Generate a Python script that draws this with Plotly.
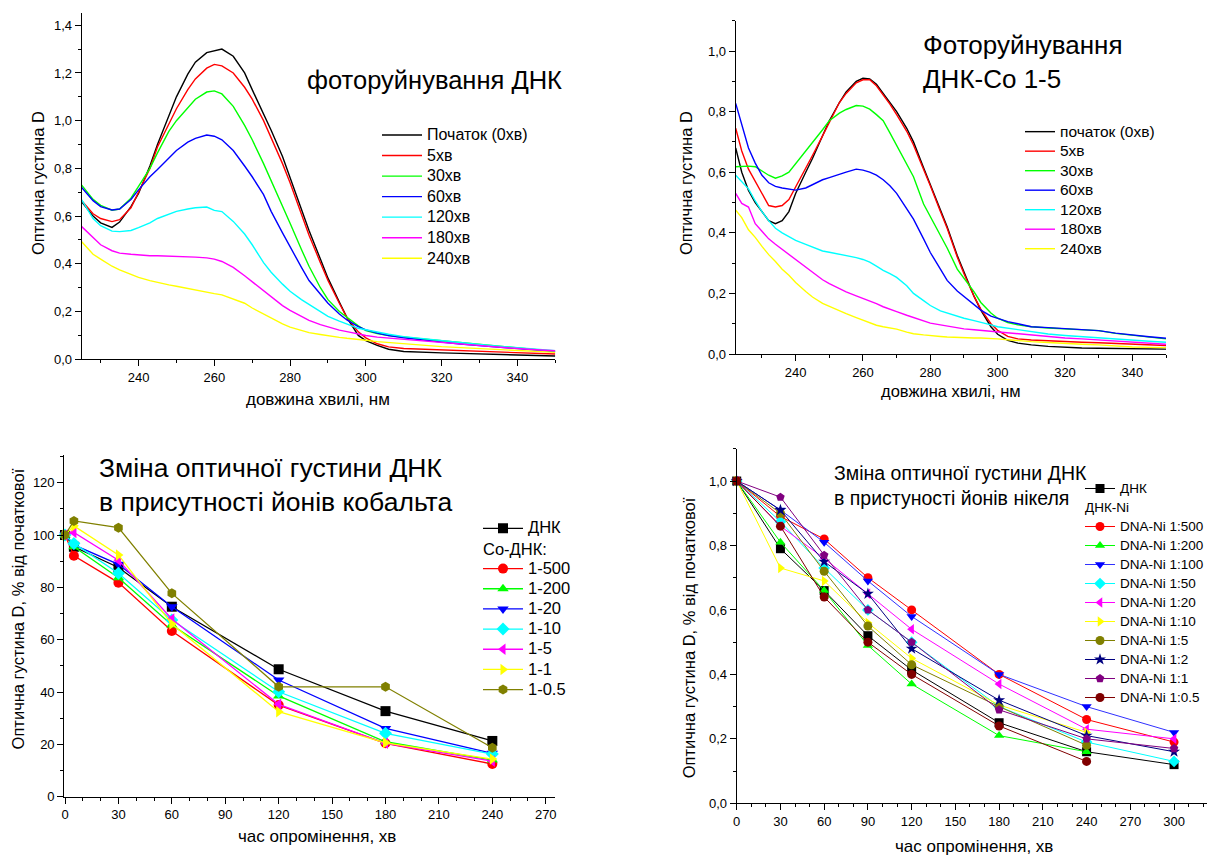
import plotly.graph_objects as go

W, H = 1207, 855
FONT = "Liberation Sans, Arial, sans-serif"

# ---------------- data: top-left (DNA photodestruction) ----------------
wl_dna = [225, 228, 230, 233, 235, 238, 240, 243, 245, 248, 250, 253, 255, 258, 260, 262,
          265, 268, 270, 273, 275, 278, 280, 283, 285, 288, 290, 293, 295, 298, 300, 303,
          306, 310, 315, 320, 325, 330, 335, 340, 345, 350]
dna_0 = [.66, .60, .572, .553, .575, .64, .695, .81, .90, 1.02, 1.10, 1.195, 1.245, 1.285, 1.293, 1.30,
         1.27, 1.20, 1.13, 1.03, .96, .85, .76, .63, .54, .42, .34, .24, .175, .10, .078, .058,
         .042, .033, .029, .027, .025, .022, .02, .018, .016, .014]
dna_5 = [.665, .61, .59, .577, .585, .635, .70, .80, .89, .99, 1.05, 1.13, 1.175, 1.22, 1.236, 1.23,
         1.20, 1.14, 1.09, 1.00, .93, .82, .74, .61, .52, .405, .33, .235, .175, .115, .09, .065,
         .052, .045, .042, .04, .037, .034, .031, .028, .025, .022]
dna_30 = [.73, .67, .645, .625, .63, .675, .725, .80, .865, .955, 1.0, 1.055, 1.09, 1.12, 1.125, 1.112,
          1.06, .98, .92, .82, .75, .64, .57, .46, .39, .30, .25, .20, .175, .14, .12, .108,
          .10, .092, .085, .078, .07, .062, .055, .047, .04, .033]
dna_60 = [.72, .665, .64, .626, .63, .67, .71, .765, .795, .845, .875, .91, .926, .94, .935, .92,
          .875, .81, .765, .69, .62, .53, .47, .385, .33, .27, .235, .19, .165, .137, .123, .11,
          .10, .09, .08, .072, .064, .057, .05, .043, .037, .032]
dna_120 = [.668, .59, .56, .537, .535, .54, .552, .572, .59, .61, .62, .63, .635, .638, .624, .619,
           .578, .525, .48, .405, .365, .315, .285, .25, .23, .197, .18, .16, .148, .13, .124, .113,
           .105, .095, .086, .078, .07, .062, .055, .048, .042, .036]
dna_180 = [.556, .51, .48, .455, .445, .44, .437, .434, .434, .433, .432, .43, .428, .425, .42, .41,
           .385, .35, .325, .285, .26, .225, .205, .18, .163, .145, .135, .122, .116, .106, .10, .093,
           .089, .084, .077, .07, .064, .058, .052, .045, .04, .036]
dna_240 = [.493, .44, .42, .39, .375, .355, .343, .33, .322, .312, .306, .296, .29, .28, .275, .27,
           .253, .235, .215, .19, .172, .148, .135, .12, .112, .104, .098, .092, .088, .084, .08, .074,
           .07, .064, .058, .053, .049, .045, .041, .037, .033, .029]

# ---------------- data: top-right (DNA-Co 1-5 photodestruction) ----------------
wl_co = [222.2, 224, 226, 228, 230, 232, 234, 236, 238, 240, 243, 245, 248, 250, 253, 255,
         258, 260, 262, 264, 266, 268, 270, 273, 275, 278, 280, 283, 285, 288, 290, 293,
         295, 298, 300, 303, 306, 310, 315, 320, 325, 330, 335, 340, 345, 350]
co_0 = [.68, .60, .54, .50, .47, .44, .43, .44, .47, .53, .60, .645, .72, .77, .83, .865,
        .90, .91, .908, .89, .86, .83, .80, .745, .70, .615, .56, .475, .42, .325, .27, .19,
        .145, .09, .065, .045, .036, .03, .025, .022, .02, .019, .018, .017, .016, .016]
co_5 = [.745, .67, .61, .57, .525, .49, .485, .49, .51, .55, .61, .655, .72, .765, .83, .86,
        .895, .905, .905, .885, .855, .825, .79, .735, .69, .61, .555, .47, .415, .32, .265, .19,
        .148, .10, .078, .058, .05, .046, .043, .041, .039, .037, .035, .033, .03, .028]
co_30 = [.618, .62, .62, .618, .605, .59, .58, .588, .60, .628, .67, .695, .74, .77, .795, .807,
         .82, .818, .808, .79, .77, .73, .69, .625, .585, .495, .455, .395, .35, .28, .25, .205,
         .17, .135, .118, .104, .096, .09, .086, .083, .08, .077, .068, .062, .056, .05]
co_60 = [.827, .756, .68, .63, .59, .565, .553, .548, .545, .541, .548, .558, .575, .582, .594, .60,
         .61, .607, .60, .59, .575, .555, .53, .48, .445, .38, .335, .28, .243, .208, .19, .16,
         .145, .125, .117, .107, .10, .09, .087, .084, .081, .077, .069, .062, .057, .052]
co_120 = [.59, .57, .545, .505, .47, .44, .415, .40, .388, .375, .362, .354, .34, .336, .33, .326,
          .318, .312, .303, .29, .276, .265, .253, .225, .20, .176, .16, .142, .135, .124, .118, .11,
          .105, .096, .09, .085, .079, .072, .066, .061, .057, .052, .048, .045, .042, .039]
co_180 = [.53, .497, .485, .43, .405, .38, .362, .345, .33, .312, .287, .27, .245, .232, .215, .205,
          .192, .184, .175, .166, .156, .147, .14, .128, .121, .11, .102, .096, .092, .086, .083, .08,
          .078, .074, .072, .069, .065, .061, .057, .053, .05, .046, .043, .04, .036, .032]
co_240 = [.475, .45, .41, .385, .355, .328, .305, .28, .26, .236, .206, .188, .167, .157, .142, .133,
          .12, .112, .104, .095, .09, .086, .082, .072, .067, .063, .06, .058, .056, .054, .054, .053,
          .053, .052, .05, .047, .044, .041, .038, .034, .032, .03, .026, .023, .022, .021]

spec_names_dna = ["Початок (0хв)", "5хв", "30хв", "60хв", "120хв", "180хв", "240хв"]
spec_names_co = ["початок (0хв)", "5хв", "30хв", "60хв", "120хв", "180хв", "240хв"]
spec_colors = ["#000000", "#FF0000", "#00FF00", "#0000FF", "#00FFFF", "#FF00FF", "#FFFF00"]

# ---------------- data: bottom-left (cobalt) ----------------
t_co = [0, 5, 30, 60, 120, 180, 240]
cob_names = ["ДНК", "1-500", "1-200", "1-20", "1-10", "1-5", "1-1", "1-0.5"]
cob_header = "Co-ДНК:"
cob_vals = [
    [100, 95.5, 87.6, 72.6, 48.7, 32.7, 21.3],
    [100, 92.1, 81.8, 63.3, 35.0, 20.4, 12.5],
    [100, 95.5, 83.7, 65.6, 38.5, 21.0, 14.0],
    [100, 96.2, 88.8, 72.6, 44.6, 26.1, 16.6],
    [100, 96.8, 85.4, 67.5, 40.1, 24.2, 16.3],
    [100, 101.0, 90.4, 67.9, 35.3, 20.4, 13.6],
    [100, 103.5, 92.4, 66.0, 32.5, 20.6, 14.4],
    [100, 105.4, 102.8, 77.7, 42.0, 42.0, 18.7],
]
cob_colors = ["#000000", "#FF0000", "#00FF00", "#0000FF", "#00FFFF", "#FF00FF", "#FFFF00", "#808000"]
cob_symbols = ["square", "circle", "triangle-up", "triangle-down", "diamond",
               "triangle-left", "triangle-right", "hexagon"]

# ---------------- data: bottom-right (nickel) ----------------
t_ni = [0, 30, 60, 90, 120, 180, 240, 300]
ni_names = ["ДНК", "DNA-Ni 1:500", "DNA-Ni 1:200", "DNA-Ni 1:100", "DNA-Ni 1:50", "DNA-Ni 1:20",
            "DNA-Ni 1:10", "DNA-Ni 1:5", "DNA-Ni 1:2", "DNA-Ni 1:1", "DNA-Ni 1:0.5"]
ni_header = "ДНК-Ni"
ni_vals = [
    [1.0, 0.79, 0.66, 0.52, 0.414, 0.25, 0.16, 0.12],
    [1.0, 0.89, 0.82, 0.70, 0.60, 0.40, 0.26, 0.19],
    [1.0, 0.81, 0.66, 0.49, 0.37, 0.21, 0.16, None],
    [1.0, 0.91, 0.81, 0.69, 0.58, 0.40, 0.30, 0.22],
    [1.0, 0.874, 0.73, 0.60, 0.50, 0.30, 0.19, 0.13],
    [1.0, 0.86, 0.76, 0.65, 0.54, 0.37, 0.23, 0.20],
    [1.0, 0.73, 0.69, 0.56, 0.45, 0.305, 0.22, None],
    [1.0, 0.90, 0.72, 0.55, 0.43, 0.30, 0.18, None],
    [1.0, 0.91, 0.75, 0.65, 0.48, 0.32, 0.21, 0.16],
    [1.0, 0.95, 0.77, 0.60, 0.50, 0.29, 0.20, 0.17],
    [1.0, 0.86, 0.64, 0.50, 0.40, 0.24, 0.13, None],
]
ni_colors = ["#000000", "#FF0000", "#00FF00", "#0000FF", "#00FFFF", "#FF00FF", "#FFFF00",
             "#808000", "#000080", "#800080", "#800000"]
ni_line_colors = ["#000000", "#FF0000", "#00FF00", "#3030FF", "#00FFFF", "#FF00FF", "#FFFF00",
                  "#808000", "#000080", "#800080", "#800000"]
ni_symbols = ["square", "circle", "triangle-up", "triangle-down", "diamond", "triangle-left",
              "triangle-right", "circle", "star", "pentagon", "circle"]


def px(x):
    return x / W


def py(y):
    return 1 - y / H


def big(t, size):
    return "<span style='font-size:%spx'>%s</span>" % (size, t)


def spacer(xa, ya, leg):
    # empty legend row that leaves room for the sub-header text
    return go.Scatter(x=[None], y=[None], mode="lines", name=" ", hoverinfo="skip",
                      line=dict(color="rgba(0,0,0,0)", width=0), xaxis=xa, yaxis=ya, legend=leg)


fig = go.Figure()

# top-left spectra
for name, vals, col in zip(spec_names_dna, [dna_0, dna_5, dna_30, dna_60, dna_120, dna_180, dna_240], spec_colors):
    fig.add_trace(go.Scatter(x=wl_dna, y=vals, mode="lines", name=big(name, 16),
                             line=dict(color=col, width=1.4), xaxis="x", yaxis="y", legend="legend"))
# top-right spectra
for name, vals, col in zip(spec_names_co, [co_0, co_5, co_30, co_60, co_120, co_180, co_240], spec_colors):
    fig.add_trace(go.Scatter(x=wl_co, y=vals, mode="lines", name=big(name, 15.5),
                             line=dict(color=col, width=1.4), xaxis="x2", yaxis="y2", legend="legend2"))
# bottom-left cobalt
for i, (name, vals, col, sym) in enumerate(zip(cob_names, cob_vals, cob_colors, cob_symbols)):
    if i == 1:
        fig.add_trace(spacer("x3", "y3", "legend3"))
    fig.add_trace(go.Scatter(x=t_co, y=vals, mode="lines+markers", name=big(name, 16.5),
                             line=dict(color=col, width=1.3),
                             marker=dict(color=col, symbol=sym, size=10),
                             cliponaxis=False, xaxis="x3", yaxis="y3", legend="legend3"))
# bottom-right nickel
for i, (name, vals, col, lcol, sym) in enumerate(zip(ni_names, ni_vals, ni_colors, ni_line_colors, ni_symbols)):
    if i == 1:
        fig.add_trace(spacer("x4", "y4", "legend4"))
    fig.add_trace(go.Scatter(x=t_ni, y=vals, mode="lines+markers", name=big(name, 13.5),
                             line=dict(color=lcol, width=1.0),
                             marker=dict(color=col, symbol=sym, size=9),
                             cliponaxis=False, xaxis="x4", yaxis="y4", legend="legend4"))


def axis(domain, rng, dtick, mdtick, anchor, fmt=None):
    d = dict(domain=domain, range=rng, anchor=anchor, showline=True, linecolor="black", linewidth=1.2,
             ticks="outside", ticklen=6, tickwidth=1.2, tickcolor="black", tick0=0, dtick=dtick,
             minor=dict(dtick=mdtick, ticks="outside", ticklen=3, tickwidth=1, tickcolor="black"),
             showgrid=False, zeroline=False, mirror=False,
             tickfont=dict(size=13, color="black", family=FONT))
    if fmt:
        d["tickformat"] = fmt
    return d


layout = dict(
    width=W, height=H, margin=dict(l=0, r=0, t=0, b=0, autoexpand=False),
    paper_bgcolor="white", plot_bgcolor="white", separators=",.",
    font=dict(family=FONT, color="black"),
    xaxis=axis([px(81.7), px(555.3)], [225, 350], 20, 10, "y"),
    yaxis=axis([py(359.3), py(13.3)], [0, 1.45], 0.2, 0.1, "x", ".1f"),
    xaxis2=axis([px(735.7), px(1166)], [222.2, 350], 20, 10, "y2"),
    yaxis2=axis([py(354), py(20.7)], [0, 1.1], 0.2, 0.1, "x2", ".1f"),
    xaxis3=axis([px(64.3), px(555)], [-0.4, 275.2], 30, 10, "y3"),
    yaxis3=axis([py(796.7), py(455.2)], [0, 130.5], 20, 10, "x3"),
    xaxis4=axis([px(736.7), 1.0], [0, 322.6], 30, 10, "y4"),
    yaxis4=axis([py(803.3), py(448.8)], [0, 1.1], 0.2, 0.1, "x4", ".1f"),
    showlegend=True,
)


def leg(x, y, size, itemwidth=30):
    return dict(x=px(x), y=py(y), xanchor="left", yanchor="top", bgcolor="rgba(0,0,0,0)",
                borderwidth=0, tracegroupgap=0, traceorder="normal", itemwidth=itemwidth,
                font=dict(size=size, color="black", family=FONT))


# legend row pitch in plotly = 1.3 * font size + 3
layout["legend"] = leg(377, 119.7, 13.5, 40)
layout["legend2"] = leg(1020, 116.9, 12.7)
layout["legend3"] = leg(478, 513.2, 13.2, 40)
layout["legend4"] = leg(1080, 474, 12)

ann = []


def text(x, y, t, size, xanchor="left", angle=0):
    ann.append(dict(x=px(x), y=py(y), xref="paper", yref="paper", text=t, showarrow=False,
                    xanchor=xanchor, yanchor="middle", align="left", textangle=angle,
                    font=dict(size=size, color="black", family=FONT)))


text(305, 80, "фоторуйнування ДНК", 25.5)
text(921, 62.5, "Фоторуйнування<br>ДНК-Co 1-5", 26)
text(96.7, 485, "Зміна оптичної густини ДНК<br>в присутності йонів кобальта", 26.5)
text(831.7, 485, "Зміна оптичної густини ДНК<br>в пристуності йонів нікеля", 19.5)

# legend sub-headers, on the spacer rows
text(481, 548.8, cob_header, 16.5)
text(1083, 507.5, ni_header, 13.5)

text(317.5, 399, "довжина хвилі, нм", 17, "center")
text(38, 183, "Оптична густина D", 16.5, "center", -90)
text(950.5, 391, "довжина хвилі, нм", 16.5, "center")
text(686, 183, "Оптична густина D", 16.5, "center", -90)
text(316.7, 836, "час опромінення, хв", 17, "center")
text(18.4, 609, "Оптична густина D, % від початкової", 16.5, "center", -90)
text(973.6, 846.7, "час опромінення, хв", 17, "center")
text(688.8, 637.5, "Оптична густина D, % від початкової", 16.5, "center", -90)

layout["annotations"] = ann
fig.update_layout(**layout)
fig.write_html("out.html")
